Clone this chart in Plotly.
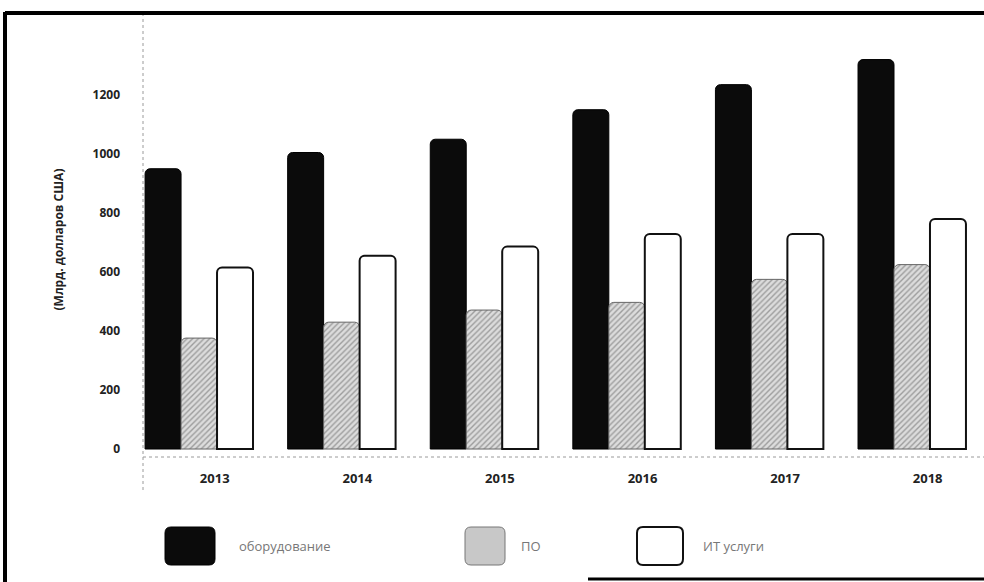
import plotly.graph_objects as go

years = [2013, 2014, 2015, 2016, 2017, 2018]
series_names = ["оборудование", "ПО", "ИТ услуги"]
hardware = [950, 1005, 1050, 1150, 1235, 1320]
software = [376, 430, 471, 497, 575, 625]
it_services = [615, 655, 686, 729, 729, 780]
y_ticks = [0, 200, 400, 600, 800, 1000, 1200]

W, H = 984, 582
ML, MR, MT, MB = 143, 0, 15, 125
PW, PH = W - ML - MR, H - MT - MB

def px(x):
    return (x - ML) / PW

def py(y):
    return (H - MB - y) / PH

fig = go.Figure()
fig.add_trace(go.Bar(x=years, y=hardware, name=series_names[0],
                     marker=dict(color="#0b0b0b", line=dict(color="#000", width=1))))
fig.add_trace(go.Bar(x=years, y=software, name=series_names[1],
                     marker=dict(color="#bdbdbd", line=dict(color="#666", width=1),
                                 pattern=dict(shape="/", fgcolor="#5e5e5e", bgcolor="#dcdcdc",
                                              size=4, solidity=0.35))))
fig.add_trace(go.Bar(x=years, y=it_services, name=series_names[2],
                     marker=dict(color="#ffffff", line=dict(color="#111", width=2))))

def rrect(x0, y0, x1, y1, r):
    # rounded rectangle path in paper coordinates from pixel coords
    rx, ry = r / PW, r / PH
    X0, X1, Y0, Y1 = px(x0), px(x1), py(y1), py(y0)
    return (f"M {X0+rx},{Y0} L {X1-rx},{Y0} Q {X1},{Y0} {X1},{Y0+ry} "
            f"L {X1},{Y1-ry} Q {X1},{Y1} {X1-rx},{Y1} L {X0+rx},{Y1} "
            f"Q {X0},{Y1} {X0},{Y1-ry} L {X0},{Y0+ry} Q {X0},{Y0} {X0+rx},{Y0} Z")

shapes = []
# dashed axis lines
shapes.append(dict(type="line", xref="paper", yref="paper", x0=0, x1=1, y0=0, y1=0,
                   line=dict(color="#9a9a9a", width=1, dash="dot")))
shapes.append(dict(type="line", xref="paper", yref="paper", x0=0, x1=0, y0=py(490), y1=1,
                   line=dict(color="#9a9a9a", width=1, dash="dot")))
# frame
shapes.append(dict(type="line", xref="paper", yref="paper", x0=px(5), x1=px(5), y0=py(582), y1=py(12),
                   line=dict(color="#000", width=4)))
shapes.append(dict(type="line", xref="paper", yref="paper", x0=px(5), x1=px(984), y0=py(13), y1=py(13),
                   line=dict(color="#000", width=4)))
shapes.append(dict(type="line", xref="paper", yref="paper", x0=px(588), x1=px(984), y0=py(579), y1=py(579),
                   line=dict(color="#000", width=3)))

# legend swatches
sw = [(165, 215, dict(fillcolor="#0b0b0b", line=dict(color="#000", width=1))),
      (465, 505, dict(fillcolor="#c8c8c8", line=dict(color="#777", width=1))),
      (637, 683, dict(fillcolor="#ffffff", line=dict(color="#111", width=2)))]
for x0, x1, st in sw:
    shapes.append(dict(type="path", xref="paper", yref="paper",
                       path=rrect(x0, 527, x1, 565, 6), **st))

annotations = []
for x, name in zip([237, 519, 701], series_names):
    annotations.append(dict(x=px(x), y=py(546), xref="paper", yref="paper", text=name,
                            showarrow=False, xanchor="left", yanchor="middle",
                            font=dict(family="Open Sans", size=13, color="#777")))
annotations.append(dict(x=px(47), y=py(240), xref="paper", yref="paper",
                        text="<b>(Млрд. долларов США)</b>", textangle=-90, showarrow=False,
                        font=dict(family="Open Sans", size=12, color="#222")))

fig.update_layout(
    width=W, height=H,
    margin=dict(l=ML, r=MR, t=MT, b=MB),
    paper_bgcolor="white", plot_bgcolor="white",
    barmode="group", bargap=0.243, bargroupgap=0.0, barcornerradius=5,
    showlegend=False,
    shapes=shapes, annotations=annotations,
    xaxis=dict(range=[2012.607, 2018.505], tickmode="array",
               tickvals=[y + 0.11 for y in years], ticktext=[f"<b>{y}</b>" for y in years],
               showgrid=False, zeroline=False, showline=False, ticks="",
               ticklabelstandoff=12,
               tickfont=dict(family="Open Sans", size=13, color="#222")),
    yaxis=dict(range=[-27, 1471], tickmode="array", tickvals=y_ticks,
               ticktext=[f"<b>{t}</b>" for t in y_ticks],
               showgrid=False, zeroline=False, showline=False, ticks="",
               ticklabelstandoff=22,
               tickfont=dict(family="Open Sans", size=12, color="#222")),
)

fig.write_html("out.html")
